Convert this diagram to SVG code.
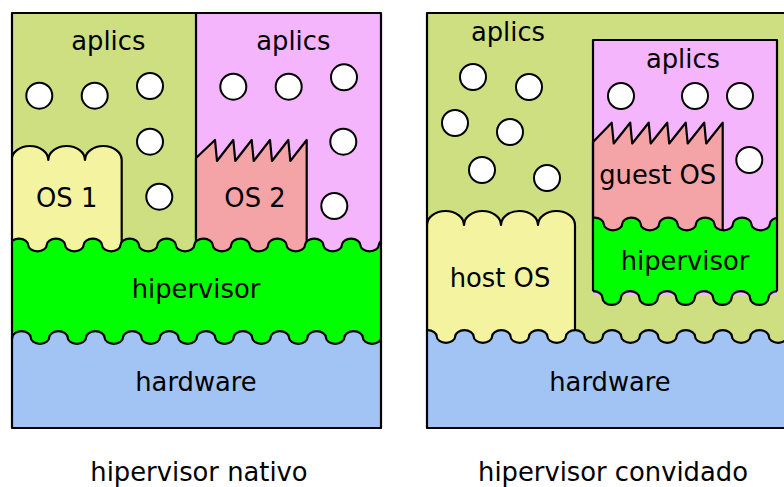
<svg xmlns="http://www.w3.org/2000/svg" width="784" height="487" viewBox="0 0 784 487">
<style>
.ln{stroke:#000;stroke-width:2.2;stroke-linejoin:round}
.c{fill:#fff;stroke:#000;stroke-width:2}
.t{font-family:"DejaVu Sans",sans-serif;font-size:25.8px;fill:#000;text-anchor:middle}
.apg{fill:#cddf80}
.pk{fill:#f5b5fd}
.ye{fill:#f4f3a0}
.sa{fill:#f4a3a7}
.hv{fill:#00ff00}
.hw{fill:#a2c4f4}
</style>
<defs>
<clipPath id="clipL"><rect x="12" y="13" width="369" height="415"/></clipPath>
<clipPath id="clipR"><rect x="427" y="13" width="370" height="415"/></clipPath>
<clipPath id="clipG"><rect x="593" y="30" width="184" height="300"/></clipPath>
</defs>
<rect width="784" height="487" fill="#fff"/>

<g id="nativo">
<g clip-path="url(#clipL)">
<g id="aplics-L1">
<rect class="apg" x="12" y="13" width="184" height="260"/>
</g>
<g id="aplics-L2">
<rect class="pk" x="196" y="13" width="185" height="260"/>
<line class="ln" x1="196" y1="13" x2="196" y2="250"/>
</g>
<g id="os1">
<path class="ye ln" d="M11.6,270 L11.6,160 a18.35,14 0 0 1 36.7,0 a18.35,14 0 0 1 36.7,0 a18.35,14 0 0 1 36.7,0 L121.7,270 Z"/>
</g>
<g id="os2">
<path class="sa ln" d="M196,270 L196,158 L215,140 L217,161 L233.3,140 L235.3,161 L251.7,140 L253.7,161 L270,140 L272,161 L288.3,140 L290.3,161 L306.7,140 L306.7,270 Z"/>
</g>
<g id="hipervisor-L">
<path class="hv ln" d="M9.8,245 a9.225,6.3 0 0 1 18.45,0 a9.225,6.3 0 0 0 18.45,0 a9.225,6.3 0 0 1 18.45,0 a9.225,6.3 0 0 0 18.45,0 a9.225,6.3 0 0 1 18.45,0 a9.225,6.3 0 0 0 18.45,0 a9.225,6.3 0 0 1 18.45,0 a9.225,6.3 0 0 0 18.45,0 a9.225,6.3 0 0 1 18.45,0 a9.225,6.3 0 0 0 18.45,0 a9.225,6.3 0 0 1 18.45,0 a9.225,6.3 0 0 0 18.45,0 a9.225,6.3 0 0 1 18.45,0 a9.225,6.3 0 0 0 18.45,0 a9.225,6.3 0 0 1 18.45,0 a9.225,6.3 0 0 0 18.45,0 a9.225,6.3 0 0 1 18.45,0 a9.225,6.3 0 0 0 18.45,0 a9.225,6.3 0 0 1 18.45,0 a9.225,6.3 0 0 0 18.45,0 a9.225,6.3 0 0 1 18.45,0 L400,245 L400,360 L0,360 L0,245 Z"/>
</g>
<g id="hardware-L">
<path class="hw ln" d="M-24.6,337.5 a9.225,6.3 0 0 1 18.45,0 a9.225,6.3 0 0 0 18.45,0 a9.225,6.3 0 0 1 18.45,0 a9.225,6.3 0 0 0 18.45,0 a9.225,6.3 0 0 1 18.45,0 a9.225,6.3 0 0 0 18.45,0 a9.225,6.3 0 0 1 18.45,0 a9.225,6.3 0 0 0 18.45,0 a9.225,6.3 0 0 1 18.45,0 a9.225,6.3 0 0 0 18.45,0 a9.225,6.3 0 0 1 18.45,0 a9.225,6.3 0 0 0 18.45,0 a9.225,6.3 0 0 1 18.45,0 a9.225,6.3 0 0 0 18.45,0 a9.225,6.3 0 0 1 18.45,0 a9.225,6.3 0 0 0 18.45,0 a9.225,6.3 0 0 1 18.45,0 a9.225,6.3 0 0 0 18.45,0 a9.225,6.3 0 0 1 18.45,0 a9.225,6.3 0 0 0 18.45,0 a9.225,6.3 0 0 1 18.45,0 a9.225,6.3 0 0 0 18.45,0 a9.225,6.3 0 0 1 18.45,0 L405,337.5 L405,440 L-30,440 L-30,337.5 Z"/>
</g>
</g>
<rect x="12" y="13" width="369" height="415" fill="none" class="ln"/>
<g id="apps-L">
<circle class="c" cx="39.3" cy="95.7" r="13"/>
<circle class="c" cx="94.7" cy="95.7" r="13"/>
<circle class="c" cx="150" cy="86" r="13"/>
<circle class="c" cx="150" cy="141.7" r="13"/>
<circle class="c" cx="159.3" cy="196.7" r="13"/>
<circle class="c" cx="233.3" cy="86.7" r="13"/>
<circle class="c" cx="288.7" cy="86.7" r="13"/>
<circle class="c" cx="344" cy="77.3" r="13"/>
<circle class="c" cx="343.3" cy="141.7" r="13"/>
<circle class="c" cx="334.3" cy="206" r="13"/>
</g>
<text class="t" x="108.3" y="50">aplics</text>
<text class="t" x="293.3" y="50">aplics</text>
<text class="t" x="66.7" y="207">OS 1</text>
<text class="t" x="255" y="207">OS 2</text>
<text class="t" x="196" y="298">hipervisor</text>
<text class="t" x="196" y="391">hardware</text>
<text class="t" x="199" y="481">hipervisor nativo</text>
</g>

<g id="convidado">
<g clip-path="url(#clipR)">
<g id="aplics-R">
<rect class="apg" x="427" y="13" width="370" height="415"/>
</g>
<g id="hostos">
<path class="ye ln" d="M427,360 L427,225 a18.5,14 0 0 1 37,0 a18.5,14 0 0 1 37,0 a18.5,14 0 0 1 37,0 a18.5,14 0 0 1 37,0 L575,360 Z"/>
</g>
<g id="guest-aplics">
<rect class="pk" x="593" y="40" width="184" height="255"/>
</g>
<g id="guestos">
<path class="sa ln" d="M593,260 L593,142 L611.7,122.7 L613.7,143.5 L630.2,122.7 L632.2,143.5 L648.7,122.7 L650.7,143.5 L667.2,122.7 L669.2,143.5 L685.7,122.7 L687.7,143.5 L704.2,122.7 L706.2,143.5 L722.7,122.7 L722.7,260 Z"/>
</g>
<g id="guest-hipervisor" clip-path="url(#clipG)">
<path class="hv ln" d="M585.3,224 a9.225,6.3 0 0 1 18.45,0 a9.225,6.3 0 0 0 18.45,0 a9.225,6.3 0 0 1 18.45,0 a9.225,6.3 0 0 0 18.45,0 a9.225,6.3 0 0 1 18.45,0 a9.225,6.3 0 0 0 18.45,0 a9.225,6.3 0 0 1 18.45,0 a9.225,6.3 0 0 0 18.45,0 a9.225,6.3 0 0 1 18.45,0 a9.225,6.3 0 0 0 18.45,0 a9.225,6.3 0 0 1 18.45,0 L786.95,298 a9.225,6.8 0 0 0 -18.45,0 a9.225,6.8 0 0 1 -18.45,0 a9.225,6.8 0 0 0 -18.45,0 a9.225,6.8 0 0 1 -18.45,0 a9.225,6.8 0 0 0 -18.45,0 a9.225,6.8 0 0 1 -18.45,0 a9.225,6.8 0 0 0 -18.45,0 a9.225,6.8 0 0 1 -18.45,0 a9.225,6.8 0 0 0 -18.45,0 a9.225,6.8 0 0 1 -18.45,0 a9.225,6.8 0 0 0 -18.45,0 Z"/>
</g>
<path class="ln" fill="none" d="M593,291.2 L593,40 L777,40 L777,291.2"/>
<g id="hardware-R">
<path class="hw ln" d="M418.3,336.5 a9.225,6.3 0 0 1 18.45,0 a9.225,6.3 0 0 0 18.45,0 a9.225,6.3 0 0 1 18.45,0 a9.225,6.3 0 0 0 18.45,0 a9.225,6.3 0 0 1 18.45,0 a9.225,6.3 0 0 0 18.45,0 a9.225,6.3 0 0 1 18.45,0 a9.225,6.3 0 0 0 18.45,0 a9.225,6.3 0 0 1 18.45,0 a9.225,6.3 0 0 0 18.45,0 a9.225,6.3 0 0 1 18.45,0 a9.225,6.3 0 0 0 18.45,0 a9.225,6.3 0 0 1 18.45,0 a9.225,6.3 0 0 0 18.45,0 a9.225,6.3 0 0 1 18.45,0 a9.225,6.3 0 0 0 18.45,0 a9.225,6.3 0 0 1 18.45,0 a9.225,6.3 0 0 0 18.45,0 a9.225,6.3 0 0 1 18.45,0 a9.225,6.3 0 0 0 18.45,0 a9.225,6.3 0 0 1 18.45,0 L810,336.5 L810,440 L415,440 L415,336.5 Z"/>
</g>
</g>
<rect x="427" y="13" width="370" height="415" fill="none" class="ln"/>
<g id="apps-R">
<circle class="c" cx="473" cy="77" r="13"/>
<circle class="c" cx="529" cy="87" r="13"/>
<circle class="c" cx="455" cy="123" r="13"/>
<circle class="c" cx="510" cy="132" r="13"/>
<circle class="c" cx="482" cy="170" r="13"/>
<circle class="c" cx="547" cy="178" r="13"/>
<circle class="c" cx="621" cy="96" r="13"/>
<circle class="c" cx="695" cy="96" r="13"/>
<circle class="c" cx="740" cy="96" r="13"/>
<circle class="c" cx="749.3" cy="160" r="13"/>
</g>
<text class="t" x="508" y="41">aplics</text>
<text class="t" x="683" y="68">aplics</text>
<text class="t" x="657.7" y="184">guest OS</text>
<text class="t" x="500" y="286.7">host OS</text>
<text class="t" x="685" y="270">hipervisor</text>
<text class="t" x="610" y="391">hardware</text>
<text class="t" x="613" y="481">hipervisor convidado</text>
</g>
</svg>
